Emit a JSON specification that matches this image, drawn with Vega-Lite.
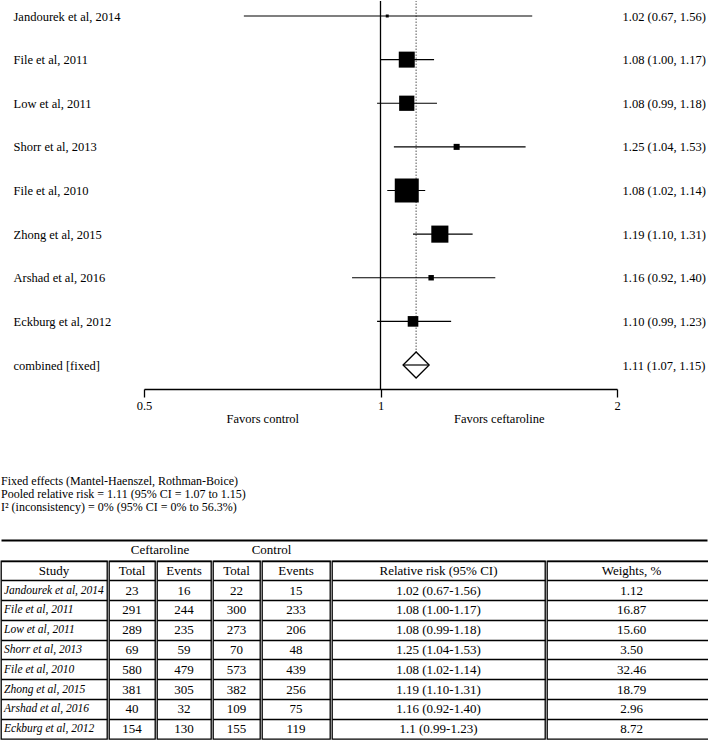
{
  "$schema": "https://vega.github.io/schema/vega-lite/v6.json",
  "padding": 0,
  "background": "white",
  "spacing": 0,
  "config": {
    "view": {"stroke": null},
    "font": "Liberation Serif",
    "axis": {"labelColor": "black", "domainColor": "black", "tickColor": "black"},
    "text": {"color": "black"}
  },
  "datasets": {
    "forest": [
      {"study": "Jandourek et al, 2014", "rr": 1.02, "lo": 0.67, "hi": 1.56, "w": 1.12, "ci": "1.02 (0.67, 1.56)"},
      {"study": "File et al, 2011", "rr": 1.08, "lo": 1.00, "hi": 1.17, "w": 16.87, "ci": "1.08 (1.00, 1.17)"},
      {"study": "Low et al, 2011", "rr": 1.08, "lo": 0.99, "hi": 1.18, "w": 15.60, "ci": "1.08 (0.99, 1.18)"},
      {"study": "Shorr et al, 2013", "rr": 1.25, "lo": 1.04, "hi": 1.53, "w": 3.50, "ci": "1.25 (1.04, 1.53)"},
      {"study": "File et al, 2010", "rr": 1.08, "lo": 1.02, "hi": 1.14, "w": 32.46, "ci": "1.08 (1.02, 1.14)"},
      {"study": "Zhong et al, 2015", "rr": 1.19, "lo": 1.10, "hi": 1.31, "w": 18.79, "ci": "1.19 (1.10, 1.31)"},
      {"study": "Arshad et al, 2016", "rr": 1.16, "lo": 0.92, "hi": 1.40, "w": 2.96, "ci": "1.16 (0.92, 1.40)"},
      {"study": "Eckburg et al, 2012", "rr": 1.10, "lo": 0.99, "hi": 1.23, "w": 8.72, "ci": "1.10 (0.99, 1.23)"},
      {"study": "combined [fixed]", "rr": 1.11, "lo": 1.07, "hi": 1.15, "w": null, "ci": "1.11 (1.07, 1.15)"}
    ],
    "stats": [
      {"line": "Fixed effects (Mantel-Haenszel, Rothman-Boice)"},
      {"line": "Pooled relative risk = 1.11 (95% CI = 1.07 to 1.15)"},
      {"line": "I² (inconsistency) = 0% (95% CI = 0% to 56.3%)"}
    ],
    "tbl": [
      {"study": "Study", "ct": "Total", "ce": "Events", "kt": "Total", "ke": "Events", "rr": "Relative risk (95% CI)", "w": "Weights, %"},
      {"study": "Jandourek et al, 2014", "ct": 23, "ce": 16, "kt": 22, "ke": 15, "rr": "1.02 (0.67-1.56)", "w": "1.12"},
      {"study": "File et al, 2011", "ct": 291, "ce": 244, "kt": 300, "ke": 233, "rr": "1.08 (1.00-1.17)", "w": "16.87"},
      {"study": "Low et al, 2011", "ct": 289, "ce": 235, "kt": 273, "ke": 206, "rr": "1.08 (0.99-1.18)", "w": "15.60"},
      {"study": "Shorr et al, 2013", "ct": 69, "ce": 59, "kt": 70, "ke": 48, "rr": "1.25 (1.04-1.53)", "w": "3.50"},
      {"study": "File et al, 2010", "ct": 580, "ce": 479, "kt": 573, "ke": 439, "rr": "1.08 (1.02-1.14)", "w": "32.46"},
      {"study": "Zhong et al, 2015", "ct": 381, "ce": 305, "kt": 382, "ke": 256, "rr": "1.19 (1.10-1.31)", "w": "18.79"},
      {"study": "Arshad et al, 2016", "ct": 40, "ce": 32, "kt": 109, "ke": 75, "rr": "1.16 (0.92-1.40)", "w": "2.96"},
      {"study": "Eckburg et al, 2012", "ct": 154, "ce": 130, "kt": 155, "ke": 119, "rr": "1.1 (0.99-1.23)", "w": "8.72"}
    ]
  },
  "vconcat": [
    {
      "width": 708,
      "height": 388,
      "data": {"name": "forest"},
      "resolve": {"scale": {"y": "independent"}, "axis": {"y": "independent"}},
      "layer": [
        {
          "layer": [
            {
              "data": {"values": [{}]},
              "mark": {"type": "rule", "color": "black", "strokeWidth": 1.3},
              "encoding": {"x": {"datum": 1, "type": "quantitative"}}
            },
            {
              "transform": [{"filter": "datum.w == null"}],
              "mark": {"type": "rule", "color": "#555555", "strokeDash": [1.5, 1.5], "strokeWidth": 1},
              "encoding": {
                "x": {"field": "rr", "type": "quantitative"},
                "y": {"field": "study", "type": "nominal", "sort": null},
                "y2": {"value": 0}
              }
            },
            {
              "transform": [{"filter": "datum.w == null"}],
              "mark": {"type": "point", "shape": "diamond", "size": 680, "filled": true, "fill": "white", "stroke": "black", "strokeWidth": 1.3, "opacity": 1},
              "encoding": {
                "x": {"field": "rr", "type": "quantitative"},
                "y": {"field": "study", "type": "nominal", "sort": null}
              }
            },
            {
              "mark": {"type": "rule", "color": "black", "strokeWidth": 1.2},
              "encoding": {
                "x": {
                  "field": "lo", "type": "quantitative",
                  "scale": {"type": "log", "domain": [0.5, 2], "nice": false, "range": [143, 616]},
                  "axis": {
                    "orient": "bottom",
                    "values": [0.5, 0.7071, 1, 1.4142, 2],
                    "labelExpr": "datum.value == 0.5 ? '0.5' : datum.value == 1 ? '1' : datum.value == 2 ? '2' : datum.value < 1 ? ['', 'Favors control'] : ['', 'Favors ceftaroline']",
                    "tickSize": 8,
                    "tickOpacity": {"condition": {"test": "datum.value == 0.7071 || datum.value == 1.4142", "value": 0}, "value": 1},
                    "domainWidth": 1.3,
                    "tickWidth": 1.3,
                    "labelFontSize": 12.5,
                    "labelFont": "Liberation Serif",
                    "labelPadding": 2,
                    "labelLineHeight": 13,
                    "labelOverlap": false,
                    "labelFlush": false,
                    "labelBound": false,
                    "grid": false,
                    "title": null
                  }
                },
                "x2": {"field": "hi"},
                "y": {
                  "field": "study", "type": "nominal", "sort": null,
                  "scale": {
                    "type": "point",
                    "domain": ["Jandourek et al, 2014", "File et al, 2011", "Low et al, 2011", "Shorr et al, 2013", "File et al, 2010", "Zhong et al, 2015", "Arshad et al, 2016", "Eckburg et al, 2012", "combined [fixed]"],
                    "range": [15, 364],
                    "padding": 0
                  },
                  "axis": {
                    "orient": "left", "domain": false, "ticks": false, "tickSize": 0,
                    "labelAlign": "left", "labelPadding": -12, "labelFontSize": 12.5,
                    "labelFont": "Liberation Serif", "labelLimit": 300, "title": null
                  }
                }
              }
            },
            {
              "transform": [{"filter": "datum.w != null"}],
              "mark": {"type": "square", "filled": true, "color": "black", "opacity": 1},
              "encoding": {
                "x": {"field": "rr", "type": "quantitative"},
                "y": {"field": "study", "type": "nominal", "sort": null},
                "size": {"field": "w", "type": "quantitative", "scale": {"type": "pow", "exponent": 1.24, "domain": [0, 32.46], "range": [0, 576]}, "legend": null}
              }
            }
          ]
        },
        {
          "mark": {"type": "point", "opacity": 0},
          "encoding": {
            "x": {"field": "rr", "type": "quantitative"},
            "y": {
              "field": "ci", "type": "nominal", "sort": null,
              "scale": {"type": "point", "range": [15, 364], "padding": 0},
              "axis": {
                "orient": "right", "domain": false, "ticks": false, "tickSize": 0,
                "labelAlign": "left", "labelPadding": -87, "labelFontSize": 12.5,
                "labelFont": "Liberation Serif", "labelLimit": 300, "title": null
              }
            }
          }
        }
      ]
    },
    {
      "width": 706,
      "height": 119,
      "data": {"name": "stats"},
      "mark": {"type": "text", "align": "left", "fontSize": 12, "font": "Liberation Serif"},
      "encoding": {
        "x": {"datum": 0, "type": "quantitative", "scale": {"domain": [0, 1]},
              "axis": {"orient": "bottom", "offset": -4, "domain": true, "domainWidth": 2, "ticks": false, "labels": false, "grid": false, "title": null}},
        "y": {"field": "line", "type": "nominal", "sort": null, "scale": {"type": "point", "range": [56, 82], "padding": 0}, "axis": null},
        "text": {"field": "line"}
      }
    },
    {
      "spacing": 0,
      "hconcat": [
        {
          "width": 106, "height": 178,
          "data": {"name": "tbl"},
          "view": {"stroke": "black", "strokeWidth": 1.3},
          "layer": [
            {
              "transform": [{"filter": "datum.study == 'Study'"}],
              "mark": {"type": "text", "fontSize": 13, "font": "Liberation Serif"},
              "encoding": {
                "y": {"field": "study", "type": "nominal", "sort": null,
                      "scale": {"type": "band", "paddingInner": 0, "paddingOuter": 0,
                                "domain": ["Study", "Jandourek et al, 2014", "File et al, 2011", "Low et al, 2011", "Shorr et al, 2013", "File et al, 2010", "Zhong et al, 2015", "Arshad et al, 2016", "Eckburg et al, 2012"]},
                      "axis": {"grid": true, "gridColor": "black", "gridWidth": 1.3, "bandPosition": 0, "domain": false, "ticks": false, "labels": false, "title": null}},
                "text": {"field": "study", "type": "nominal"}
              }
            },
            {
              "transform": [{"filter": "datum.study != 'Study'"}],
              "mark": {"type": "text", "align": "left", "fontStyle": "italic", "fontSize": 11.5, "font": "Liberation Serif", "dx": 3},
              "encoding": {
                "x": {"datum": 0, "type": "quantitative", "scale": {"domain": [0, 1]}, "axis": null},
                "y": {"field": "study", "type": "nominal", "sort": null},
                "text": {"field": "study", "type": "nominal"}
              }
            }
          ]
        },
        {
          "title": {"text": "Ceftaroline", "anchor": "middle", "fontSize": 13, "fontWeight": "normal", "font": "Liberation Serif", "offset": 3, "color": "black"},
          "spacing": 0,
          "hconcat": [
            {
              "width": 46, "height": 178, "data": {"name": "tbl"},
              "view": {"stroke": "black", "strokeWidth": 1.3},
              "mark": {"type": "text", "fontSize": 13, "font": "Liberation Serif"},
              "encoding": {
                "y": {"field": "study", "type": "nominal", "sort": null, "scale": {"type": "band", "paddingInner": 0, "paddingOuter": 0},
                      "axis": {"grid": true, "gridColor": "black", "gridWidth": 1.3, "bandPosition": 0, "domain": false, "ticks": false, "labels": false, "title": null}},
                "text": {"field": "ct", "type": "nominal"}
              }
            },
            {
              "width": 54, "height": 178, "data": {"name": "tbl"},
              "view": {"stroke": "black", "strokeWidth": 1.3},
              "mark": {"type": "text", "fontSize": 13, "font": "Liberation Serif"},
              "encoding": {
                "y": {"field": "study", "type": "nominal", "sort": null, "scale": {"type": "band", "paddingInner": 0, "paddingOuter": 0},
                      "axis": {"grid": true, "gridColor": "black", "gridWidth": 1.3, "bandPosition": 0, "domain": false, "ticks": false, "labels": false, "title": null}},
                "text": {"field": "ce", "type": "nominal"}
              }
            }
          ]
        },
        {
          "title": {"text": "Control", "anchor": "middle", "fontSize": 13, "fontWeight": "normal", "font": "Liberation Serif", "offset": 3, "color": "black"},
          "spacing": 0,
          "hconcat": [
            {
              "width": 47, "height": 178, "data": {"name": "tbl"},
              "view": {"stroke": "black", "strokeWidth": 1.3},
              "mark": {"type": "text", "fontSize": 13, "font": "Liberation Serif"},
              "encoding": {
                "y": {"field": "study", "type": "nominal", "sort": null, "scale": {"type": "band", "paddingInner": 0, "paddingOuter": 0},
                      "axis": {"grid": true, "gridColor": "black", "gridWidth": 1.3, "bandPosition": 0, "domain": false, "ticks": false, "labels": false, "title": null}},
                "text": {"field": "kt", "type": "nominal"}
              }
            },
            {
              "width": 68, "height": 178, "data": {"name": "tbl"},
              "view": {"stroke": "black", "strokeWidth": 1.3},
              "mark": {"type": "text", "fontSize": 13, "font": "Liberation Serif"},
              "encoding": {
                "y": {"field": "study", "type": "nominal", "sort": null, "scale": {"type": "band", "paddingInner": 0, "paddingOuter": 0},
                      "axis": {"grid": true, "gridColor": "black", "gridWidth": 1.3, "bandPosition": 0, "domain": false, "ticks": false, "labels": false, "title": null}},
                "text": {"field": "ke", "type": "nominal"}
              }
            }
          ]
        },
        {
          "width": 213, "height": 178, "data": {"name": "tbl"},
          "view": {"stroke": "black", "strokeWidth": 1.3},
          "mark": {"type": "text", "fontSize": 13, "font": "Liberation Serif"},
          "encoding": {
            "y": {"field": "study", "type": "nominal", "sort": null, "scale": {"type": "band", "paddingInner": 0, "paddingOuter": 0},
                  "axis": {"grid": true, "gridColor": "black", "gridWidth": 1.3, "bandPosition": 0, "domain": false, "ticks": false, "labels": false, "title": null}},
            "text": {"field": "rr", "type": "nominal"}
          }
        },
        {
          "width": 169, "height": 178, "data": {"name": "tbl"},
          "view": {"stroke": "black", "strokeWidth": 1.3},
          "mark": {"type": "text", "fontSize": 13, "font": "Liberation Serif"},
          "encoding": {
            "y": {"field": "study", "type": "nominal", "sort": null, "scale": {"type": "band", "paddingInner": 0, "paddingOuter": 0},
                  "axis": {"grid": true, "gridColor": "black", "gridWidth": 1.3, "bandPosition": 0, "domain": false, "ticks": false, "labels": false, "title": null}},
            "text": {"field": "w", "type": "nominal"}
          }
        }
      ]
    }
  ]
}
